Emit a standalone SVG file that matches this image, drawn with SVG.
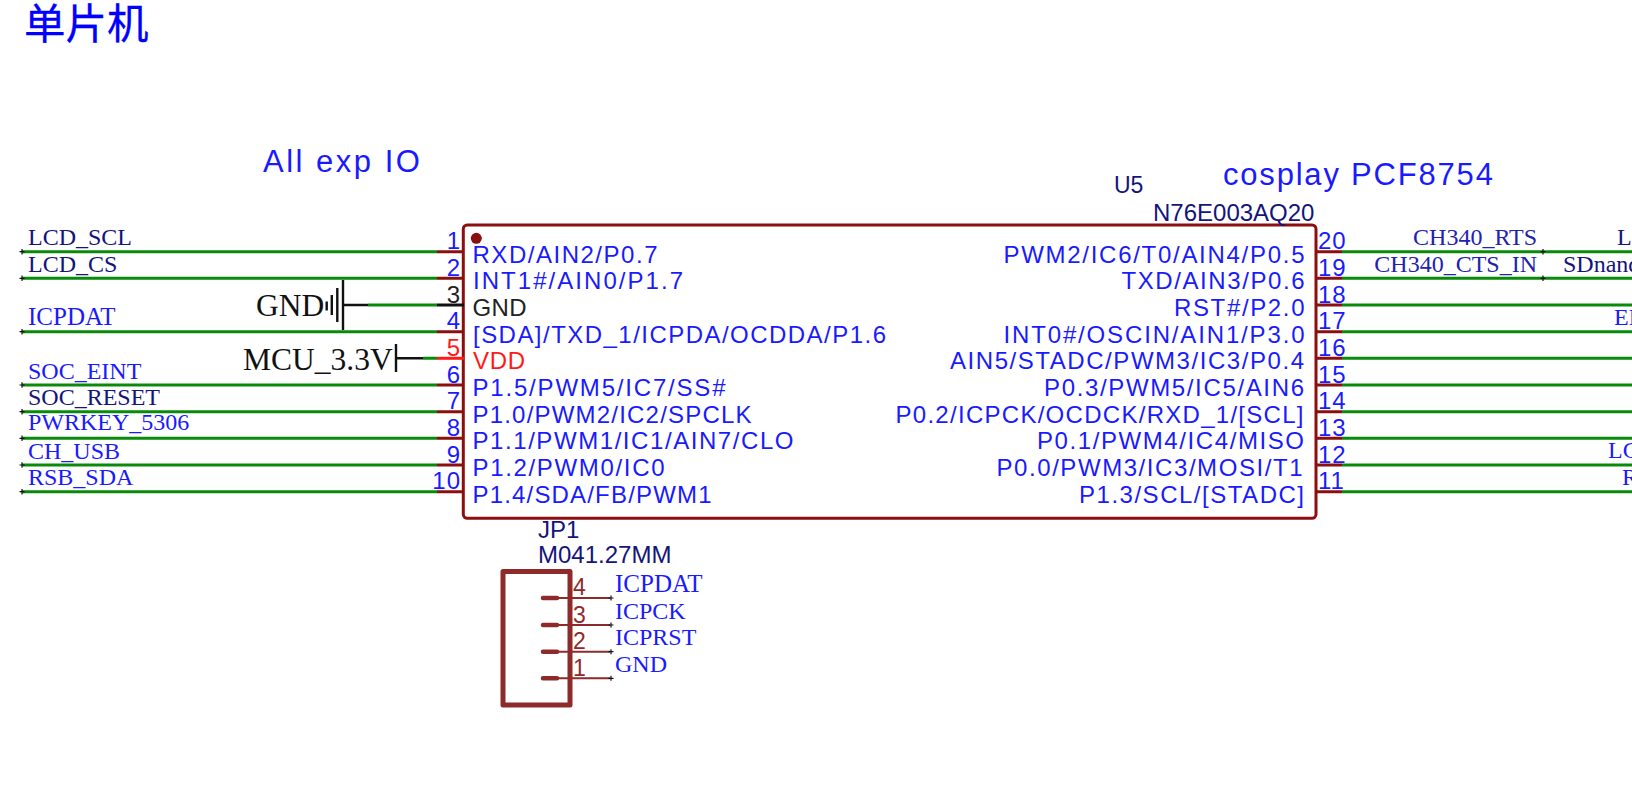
<svg xmlns="http://www.w3.org/2000/svg" width="1632" height="798" viewBox="0 0 1632 798">
<style>
text{white-space:pre}
.s{font-family:"Liberation Sans",sans-serif}
.h{font-family:"Liberation Sans",sans-serif;font-size:31px;fill:#1a1aff}
.t{font-family:"Liberation Serif",serif;font-size:24px}
.d{font-size:25px}
.pn{font-family:"Liberation Sans",sans-serif;font-size:24px;letter-spacing:1px;fill:#1a1aff}
.pl{font-family:"Liberation Sans",sans-serif;font-size:24px;fill:#1a1aff}
.r{text-anchor:end}
.w{stroke:#0a8a0a;stroke-width:3;fill:none}
.p{stroke:#8b0f0f;stroke-width:3;fill:none}
.k{stroke:#111;stroke-width:2.4;fill:none}
.c{stroke:#111;stroke-width:1.2;fill:none}
.b{fill:#1a1aff}
.m{fill:#2222b0}
.n{fill:#14147a}
</style>
<rect width="1632" height="798" fill="#fff"/>
<text x="24" y="39" font-family="'Noto Sans CJK SC',sans-serif" font-size="41.500" fill="#0000ff" stroke="#0000ff" stroke-width="0.3">单片机</text>
<text x="263" y="172" class="h" letter-spacing="2.5">All exp IO</text>
<text x="1223" y="185" class="h" letter-spacing="1.8">cosplay PCF8754</text>
<g id="connectors">
<path class="w" d="M22 251.7H437M22 278.3H437M368 305H437M22 331.7H437M423 358.3H437M22 385H437M22 411.7H437M22 438.3H437M22 465H437M22 491.7H437"/>
<path class="w" d="M1342 251.7H1632M1342 278.3H1632M1342 305H1632M1342 331.7H1632M1342 358.3H1632M1342 385H1632M1342 411.7H1632M1342 438.3H1632M1342 465H1632M1342 491.7H1632"/>
<path class="c" d="M22 249v5.4M19.500 251.7h5M22 275.600v5.400M19.500 278.300h5M22 329v5.400M19.500 331.700h5M22 382.300v5.400M19.500 385h5M22 409v5.400M19.500 411.700h5M22 435.600v5.400M19.500 438.300h5M22 462.300v5.400M19.500 465h5M22 489v5.400M19.500 491.700h5M1543 249v5.400M1540.500 251.700h5M1543 275.600v5.400M1540.500 278.300h5"/>
</g>
<g id="U5">
<rect x="463.300" y="225" width="852.700" height="293.300" rx="4" fill="none" stroke="#8b0f0f" stroke-width="3"/>
<circle cx="476.300" cy="238.300" r="5.500" fill="#8b0f0f"/>
<path class="p" d="M437 251.7H463M437 278.3H463M437 331.7H463M437 385H463M437 411.7H463M437 438.3H463M437 465H463M437 491.7H463M1316 251.7H1342M1316 278.300H1342M1316 305H1342M1316 331.7H1342M1316 358.3H1342M1316 385H1342M1316 411.7H1342M1316 438.3H1342M1316 465H1342M1316 491.7H1342"/>
<path stroke="#111" stroke-width="3" d="M437 305H464"/>
<path stroke="#ff1a1a" stroke-width="3" d="M437 358.3H464"/>
<text x="1114" y="193" class="s n" font-size="23">U5</text>
<text x="1153" y="221" class="s n" font-size="24">N76E003AQ20</text>
<g class="pn r">
<text x="461" y="249">1</text><text x="461" y="276">2</text><text x="461" y="303" style="fill:#222">3</text><text x="461" y="329">4</text><text x="461" y="356" style="fill:#ff1a1a">5</text><text x="461" y="383">6</text><text x="461" y="409">7</text><text x="461" y="436">8</text><text x="461" y="463">9</text><text x="461" y="489">10</text>
</g>
<g class="pn">
<text x="1318" y="249">20</text><text x="1318" y="276">19</text><text x="1318" y="303">18</text><text x="1318" y="329">17</text><text x="1318" y="356">16</text><text x="1318" y="383">15</text><text x="1318" y="409">14</text><text x="1318" y="436">13</text><text x="1318" y="463">12</text><text x="1318" y="489">11</text>
</g>
<g class="pl">
<text x="472.500" y="262.700" textLength="185" lengthAdjust="spacing">RXD/AIN2/P0.7</text>
<text x="473" y="289" textLength="210" lengthAdjust="spacing">INT1#/AIN0/P1.7</text>
<text x="472.500" y="315.700" textLength="54" lengthAdjust="spacing" style="fill:#222">GND</text>
<text x="473" y="342.700" textLength="413" lengthAdjust="spacing">[SDA]/TXD_1/ICPDA/OCDDA/P1.6</text>
<text x="473" y="369" textLength="52" lengthAdjust="spacing" style="fill:#ff1a1a">VDD</text>
<text x="472.500" y="395.700" textLength="253" lengthAdjust="spacing">P1.5/PWM5/IC7/SS#</text>
<text x="472.500" y="422.700" textLength="279" lengthAdjust="spacing">P1.0/PWM2/IC2/SPCLK</text>
<text x="472.500" y="449" textLength="321" lengthAdjust="spacing">P1.1/PWM1/IC1/AIN7/CLO</text>
<text x="472.500" y="475.700" textLength="192" lengthAdjust="spacing">P1.2/PWM0/IC0</text>
<text x="472.500" y="502.700" textLength="239" lengthAdjust="spacing">P1.4/SDA/FB/PWM1</text>
</g>
<g class="pl">
<text x="1003.500" y="262.700" textLength="301" lengthAdjust="spacing">PWM2/IC6/T0/AIN4/P0.5</text>
<text x="1121.500" y="289" textLength="183" lengthAdjust="spacing">TXD/AIN3/P0.6</text>
<text x="1174" y="315.700" textLength="130.500" lengthAdjust="spacing">RST#/P2.0</text>
<text x="1003.500" y="342.700" textLength="301" lengthAdjust="spacing">INT0#/OSCIN/AIN1/P3.0</text>
<text x="950" y="369" textLength="354" lengthAdjust="spacing">AIN5/STADC/PWM3/IC3/P0.4</text>
<text x="1044" y="395.700" textLength="260" lengthAdjust="spacing">P0.3/PWM5/IC5/AIN6</text>
<text x="895.500" y="422.700" textLength="408" lengthAdjust="spacing">P0.2/ICPCK/OCDCK/RXD_1/[SCL]</text>
<text x="1037" y="449" textLength="267" lengthAdjust="spacing">P0.1/PWM4/IC4/MISO</text>
<text x="996.500" y="475.700" textLength="306" lengthAdjust="spacing">P0.0/PWM3/IC3/MOSI/T1</text>
<text x="1079" y="502.700" textLength="225" lengthAdjust="spacing">P1.3/SCL/[STADC]</text>
</g>
</g>
<g id="GND">
<path class="k" d="M343 305H368M343 280V330M337.300 288V322M331.800 295V315M326.700 301.500V310.500"/>
<text x="256" y="316" font-family="'Liberation Serif',serif" font-size="31.500" fill="#111">GND</text>
</g>
<g id="MCU_3.3V">
<path class="k" d="M396 358.300H423M396 344V372"/>
<text x="243" y="370" font-family="'Liberation Serif',serif" font-size="31.500" fill="#111">MCU_3.3V</text>
</g>
<g id="nets-left" class="t">
<text x="28" y="245" class="n">LCD_SCL</text><text x="28" y="272" class="n">LCD_CS</text><text x="28" y="325" class="b d">ICPDAT</text><text x="28" y="379" class="b">SOC_EINT</text><text x="28" y="405" class="n">SOC_RESET</text><text x="28" y="430" class="b">PWRKEY_5306</text><text x="28" y="459" class="b">CH_USB</text><text x="28" y="485" class="b">RSB_SDA</text>
</g>
<g id="nets-right" class="t">
<text x="1537" y="245" class="m r">CH340_RTS</text><text x="1537" y="272" class="m r">CH340_CTS_IN</text>
<text x="1617" y="245" class="n">LC</text><text x="1563" y="272" class="n">SDnand</text><text x="1614" y="325" class="b">EN</text><text x="1608" y="458" class="b">LC</text><text x="1622" y="485" class="b">R</text>
</g>
<g id="JP1">
<path d="M503 571.500V705H570V571.500Z" fill="none" stroke="#8f2a2a" stroke-width="5" stroke-linejoin="round"/>
<path stroke="#8f2a2a" stroke-width="4.500" stroke-linecap="round" d="M543 598H557M543 625H557M543 651.700H557M543 678.300H557"/>
<path stroke="#8f2a2a" stroke-width="2" d="M557 598H610M557 625H610M557 651.700H610M557 678.300H610"/>
<path class="c" d="M611 595.500v5M608.500 598h5M611 622.500v5M608.500 625h5M611 649.200v5M608.500 651.700h5M611 675.800v5M608.500 678.300h5"/>
<g class="s" font-size="23" fill="#8f2a2a"><text x="573" y="595">4</text><text x="573" y="622.500">3</text><text x="573" y="649">2</text><text x="573" y="675.500">1</text></g>
<text x="538" y="538" class="s n" font-size="24">JP1</text>
<text x="538" y="563" class="s n" font-size="24">M041.27MM</text>
<g class="t b"><text x="615" y="592" class="d">ICPDAT</text><text x="615" y="619">ICPCK</text><text x="615" y="644.500">ICPRST</text><text x="615" y="672">GND</text></g>
</g>
</svg>
